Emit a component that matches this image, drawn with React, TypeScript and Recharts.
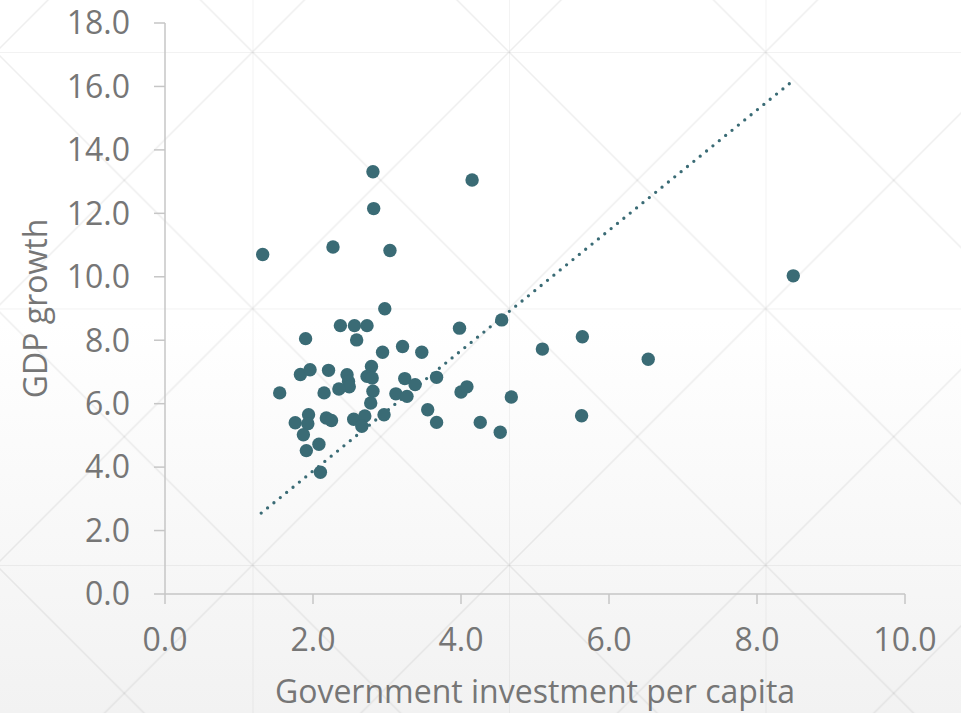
import React from 'react';
import { ScatterChart, Scatter, XAxis, YAxis } from 'recharts';

// Government investment per capita (x) and GDP growth (y), one entry per country
const investment = [
  1.32, 1.55, 2.27, 2.81, 2.82, 4.15, 3.04, 8.49, 2.97, 1.90,
  2.37, 2.56, 2.73, 2.59, 3.98, 4.55, 5.64, 5.10, 6.53, 3.21,
  2.94, 3.47, 1.83, 1.96, 2.21, 2.46, 2.48, 2.49, 2.35, 2.15,
  2.79, 2.73, 2.80, 2.81, 2.78, 3.24, 3.38, 3.12, 3.27, 3.67,
  4.00, 4.08, 4.68, 3.55, 3.67, 4.26, 4.53, 5.63, 2.96, 1.76,
  1.94, 1.93, 1.87, 2.18, 2.25, 2.55, 2.70, 2.66, 1.91, 2.08,
  2.10,
];
const growth = [
  10.70, 6.34, 10.94, 13.31, 12.15, 13.05, 10.83, 10.03, 8.99, 8.05,
  8.46, 8.46, 8.46, 8.01, 8.38, 8.64, 8.11, 7.72, 7.40, 7.80,
  7.62, 7.62, 6.92, 7.07, 7.05, 6.91, 6.70, 6.53, 6.46, 6.34,
  7.17, 6.86, 6.81, 6.39, 6.02, 6.79, 6.60, 6.31, 6.23, 6.83,
  6.37, 6.53, 6.21, 5.81, 5.41, 5.41, 5.10, 5.62, 5.65, 5.40,
  5.65, 5.37, 5.02, 5.55, 5.47, 5.51, 5.61, 5.29, 4.52, 4.72,
  3.84,
];

// linear trendline end points
const trendX = [1.3, 8.47];
const trendY = [2.55, 16.15];

const xTicks = [0, 2, 4, 6, 8, 10];
const yTicks = [0, 2, 4, 6, 8, 10, 12, 14, 16, 18];

const points = investment.map((x, i) => ({ x, y: growth[i] }));
const trend = trendX.map((x, i) => ({ x, y: trendY[i] }));

const TEAL = '#3a6b75';
const AXIS = '#c6c6c6';
const TEXT = '#767676';
const FONT = '"Open Sans", Lato, sans-serif';
const FS = 32;

const Dot = (props: any) => <circle cx={props.cx} cy={props.cy} r={6.7} fill={TEAL} />;

const Background = () => (
  <svg width={961} height={713} style={{ position: 'absolute', left: 0, top: 0 }}>
    <defs>
      <linearGradient id="bg" x1="0" y1="0" x2="0" y2="1">
        <stop offset="0%" stopColor="#ffffff" />
        <stop offset="45%" stopColor="#ffffff" />
        <stop offset="100%" stopColor="#f2f2f2" />
      </linearGradient>
      <pattern id="tile" patternUnits="userSpaceOnUse" x={-4} y={52} width={256.5} height={256.5}>
        <g stroke="#000" strokeOpacity={0.065} strokeWidth={1.4} fill="none">
          <line x1={0} y1={0} x2={256.5} y2={0} />
          <line x1={0} y1={0} x2={0} y2={256.5} />
          <line x1={0} y1={0} x2={256.5} y2={256.5} />
          <line x1={256.5} y1={0} x2={0} y2={256.5} />
        </g>
      </pattern>
    </defs>
    <rect width={961} height={713} fill="url(#bg)" />
    <rect width={961} height={713} fill="url(#tile)" />
  </svg>
);

const App: React.FC = () => {
  return (
    <div style={{ position: 'absolute', left: 0, top: 0, width: 961, height: 713 }}>
      <Background />
      <div style={{ position: 'absolute', left: 0, top: 0 }}>
        <ScatterChart width={961} height={713} margin={{ top: 23, right: 56, bottom: 0, left: 0 }}>
          <XAxis
            type="number"
            dataKey="x"
            domain={[0, 10]}
            ticks={xTicks}
            tickFormatter={(v: number) => v.toFixed(1)}
            height={119}
            axisLine={{ stroke: AXIS, strokeWidth: 1.5 }}
            tickLine={{ stroke: AXIS, strokeWidth: 1.5 }}
            tickSize={10}
            tickMargin={24}
            tick={{ fill: TEXT, fontSize: FS, fontFamily: FONT }}
            label={{
              value: 'Government investment per capita',
              content: (p: any) => (
                <text
                  x={p.viewBox.x + p.viewBox.width / 2}
                  y={703}
                  textAnchor="middle"
                  fill={TEXT}
                  fontSize={FS}
                  fontFamily={FONT}
                >
                  Government investment per capita
                </text>
              ),
            }}
          />
          <YAxis
            type="number"
            dataKey="y"
            domain={[0, 18]}
            ticks={yTicks}
            tickFormatter={(v: number) => v.toFixed(1)}
            width={165}
            axisLine={{ stroke: AXIS, strokeWidth: 1.5 }}
            tickLine={{ stroke: AXIS, strokeWidth: 1.5 }}
            tickSize={11}
            tickMargin={24}
            tick={{ fill: TEXT, fontSize: FS, fontFamily: FONT }}
            label={{
              value: 'GDP growth',
              content: (p: any) => (
                <text
                  transform={`translate(47, ${p.viewBox.y + p.viewBox.height / 2}) rotate(-90)`}
                  textAnchor="middle"
                  fill={TEXT}
                  fontSize={FS}
                  fontFamily={FONT}
                >
                  GDP growth
                </text>
              ),
            }}
          />
          <Scatter
            data={trend}
            isAnimationActive={false}
            line={{ stroke: TEAL, strokeWidth: 3.3, strokeDasharray: '0 8.2', strokeLinecap: 'round' }}
            shape={() => <g />}
          />
          <Scatter data={points} isAnimationActive={false} shape={Dot} />
        </ScatterChart>
      </div>
    </div>
  );
};

export default App;
